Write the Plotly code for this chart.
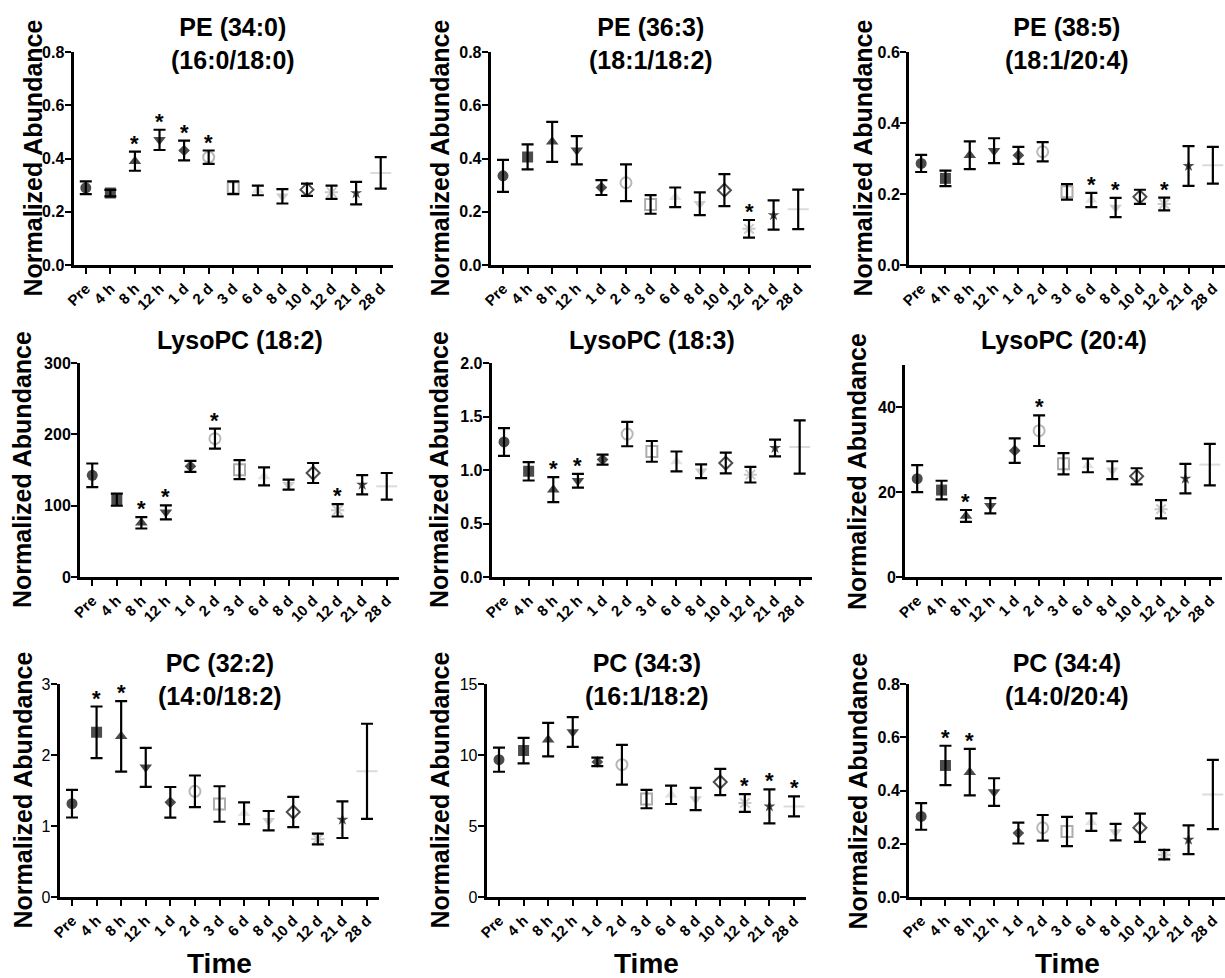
import plotly.graph_objects as go

W, H = 1225, 978
FONT = "Liberation Sans, Arial, sans-serif"

times = ["Pre", "4 h", "8 h", "12 h", "1 d", "2 d", "3 d", "6 d", "8 d", "10 d", "12 d", "21 d", "28 d"]

# ---- data (mean, error, significant time points) ----
pe340_mean = [0.29, 0.27, 0.39, 0.47, 0.43, 0.405, 0.29, 0.28, 0.258, 0.283, 0.273, 0.27, 0.346]
pe340_err = [0.024, 0.012, 0.036, 0.038, 0.037, 0.025, 0.024, 0.018, 0.027, 0.023, 0.025, 0.042, 0.059]
pe340_sig = ["8 h", "12 h", "1 d", "2 d"]

pe363_mean = [0.335, 0.406, 0.4625, 0.431, 0.291, 0.309, 0.2275, 0.254, 0.23, 0.281, 0.136, 0.1875, 0.209]
pe363_err = [0.06, 0.047, 0.075, 0.053, 0.028, 0.069, 0.035, 0.037, 0.043, 0.06, 0.033, 0.055, 0.074]
pe363_sig = ["12 d"]

pe385_mean = [0.286, 0.244, 0.309, 0.322, 0.309, 0.319, 0.206, 0.183, 0.162, 0.192, 0.172, 0.279, 0.281]
pe385_err = [0.024, 0.022, 0.039, 0.035, 0.024, 0.027, 0.022, 0.02, 0.027, 0.02, 0.018, 0.056, 0.052]
pe385_sig = ["6 d", "8 d", "12 d"]

lpc182_mean = [142.5, 108.4, 76, 90.7, 155.1, 193.9, 150.5, 141, 129.4, 145.8, 93.5, 129.4, 127.1]
lpc182_err = [16.6, 8.5, 8, 9.8, 7.7, 14, 13.3, 12.6, 7, 14, 8.7, 13.5, 18.7]
lpc182_sig = ["8 h", "12 h", "2 d", "12 d"]

lpc183_mean = [1.262, 0.988, 0.816, 0.9, 1.097, 1.336, 1.174, 1.08, 0.988, 1.065, 0.956, 1.206, 1.215]
lpc183_err = [0.13, 0.086, 0.117, 0.064, 0.047, 0.114, 0.097, 0.093, 0.064, 0.097, 0.073, 0.078, 0.249]
lpc183_sig = ["8 h", "12 h"]

lpc204_mean = [23.2, 20.5, 14.4, 16.8, 29.8, 34.5, 26.7, 26.3, 25.2, 23.75, 16.0, 23.2, 26.5]
lpc204_err = [3.2, 2.2, 1.4, 1.8, 2.9, 3.6, 2.5, 1.6, 2.1, 1.9, 2.15, 3.5, 4.9]
lpc204_sig = ["8 h", "2 d"]

pc322_mean = [1.315, 2.319, 2.263, 1.826, 1.333, 1.488, 1.31, 1.18, 1.075, 1.197, 0.817, 1.089, 1.77]
pc322_err = [0.195, 0.364, 0.497, 0.275, 0.216, 0.223, 0.25, 0.153, 0.136, 0.213, 0.075, 0.258, 0.67]
pc322_sig = ["4 h", "8 h"]

pc343_mean = [9.67, 10.31, 11.08, 11.62, 9.51, 9.32, 6.9, 7.2, 6.9, 8.1, 6.62, 6.38, 6.38]
pc343_err = [0.85, 0.9, 1.18, 1.05, 0.3, 1.4, 0.65, 0.65, 0.78, 0.92, 0.62, 1.2, 0.7]
pc343_sig = ["12 d", "21 d", "28 d"]

pc344_mean = [0.3025, 0.494, 0.469, 0.394, 0.24, 0.26, 0.246, 0.281, 0.244, 0.26, 0.159, 0.215, 0.385]
pc344_err = [0.05, 0.074, 0.087, 0.052, 0.039, 0.048, 0.055, 0.033, 0.031, 0.053, 0.018, 0.054, 0.13]
pc344_sig = ["4 h", "8 h"]

titles = ["PE (34:0)<br>(16:0/18:0)", "PE (36:3)<br>(18:1/18:2)", "PE (38:5)<br>(18:1/20:4)",
          "LysoPC (18:2)", "LysoPC (18:3)", "LysoPC (20:4)",
          "PC (32:2)<br>(14:0/18:2)", "PC (34:3)<br>(16:1/18:2)", "PC (34:4)<br>(14:0/20:4)"]

panels = [
    (pe340_mean, pe340_err, pe340_sig),
    (pe363_mean, pe363_err, pe363_sig),
    (pe385_mean, pe385_err, pe385_sig),
    (lpc182_mean, lpc182_err, lpc182_sig),
    (lpc183_mean, lpc183_err, lpc183_sig),
    (lpc204_mean, lpc204_err, lpc204_sig),
    (pc322_mean, pc322_err, pc322_sig),
    (pc343_mean, pc343_err, pc343_sig),
    (pc344_mean, pc344_err, pc344_sig),
]

y_ranges = [(0, 0.8), (0, 0.8), (0, 0.6), (0, 300), (0, 2.0), (0, 50), (0, 3), (0, 15), (0, 0.8)]
y_ticks = [[0, 0.2, 0.4, 0.6, 0.8], [0, 0.2, 0.4, 0.6, 0.8], [0, 0.2, 0.4, 0.6],
           [0, 100, 200, 300], [0, 0.5, 1.0, 1.5, 2.0], [0, 20, 40],
           [0, 1, 2, 3], [0, 5, 10, 15], [0, 0.2, 0.4, 0.6, 0.8]]
y_fmt = [".1f", ".1f", ".1f", "d", ".1f", "d", "d", "d", ".1f"]
y_bold = [True, True, True, True, True, True, False, False, True]

# ---- layout geometry (pixels) ----
dom_px = [  # x0, x1, ytop, ybottom
    (73.5, 393, 52, 265), (490.7, 810.5, 52, 265), (909, 1225, 52, 265),
    (80, 399, 363, 577), (491.7, 812, 363, 577), (905, 1222, 365, 577),
    (59.7, 379.3, 684, 897), (486.7, 806.3, 684, 897), (909, 1225, 684, 897),
]
ytitle_x = [32, 439, 862, 22, 439, 857, 22, 439, 857]
title_y = [43, 43, 43, 340, 340, 340, 679, 679, 679]

symbols = ["circle", "square", "triangle-up", "triangle-down", "diamond", "circle-open",
           "square-open", "triangle-up", "triangle-down", "diamond-open", "asterisk-open",
           "star", "line-ew-open"]
colors = ["#000000", "#000000", "#000000", "#000000", "#000000", "#9a9a9a",
          "#8a8a8a", "#d6d6d6", "#b8b8b8", "#000000", "#b5b5b5", "#000000", "#cccccc"]
sizes = [11, 11, 11, 11, 9, 11, 11, 11, 11, 10, 11, 9, 15]
lwidths = [0, 0, 0, 0, 0, 2, 2, 0, 0, 2, 2, 0, 2]


def px_x(p):
    return p / W


def px_y(p):
    return 1 - p / H


fig = go.Figure()
annotations = []
layout = {}

for i, (mean, err, sig) in enumerate(panels):
    k = i + 1
    xa = "x" if k == 1 else f"x{k}"
    ya = "y" if k == 1 else f"y{k}"
    x0, x1, yt, yb = dom_px[i]
    fig.add_trace(go.Scatter(
        x=times, y=mean, mode="markers", xaxis=xa, yaxis=ya, showlegend=False,
        marker=dict(symbol=symbols, color=colors, size=sizes,
                    line=dict(color=colors, width=lwidths)),
    ))
    fig.add_trace(go.Scatter(
        x=times, y=mean, mode="markers", xaxis=xa, yaxis=ya, showlegend=False,
        marker=dict(size=2, opacity=0),
        error_y=dict(type="data", array=err, color="black", thickness=2.2, width=6),
    ))
    tickfont = dict(family=FONT, size=16, color="black", weight="bold" if y_bold[i] else "normal")
    layout["xaxis" if k == 1 else f"xaxis{k}"] = dict(
        domain=[px_x(x0), px_x(x1)], anchor=ya, type="category", range=[-0.5, 12.5],
        showline=True, linewidth=3, linecolor="black", ticks="outside", ticklen=6,
        tickwidth=2, tickcolor="black", tickangle=-45, showgrid=False, zeroline=False,
        automargin=False,
        tickfont=dict(family=FONT, size=15, color="black", weight="bold"),
    )
    layout["yaxis" if k == 1 else f"yaxis{k}"] = dict(
        domain=[px_y(yb), px_y(yt)], anchor=xa, range=list(y_ranges[i]),
        tickvals=y_ticks[i], tickformat=y_fmt[i],
        showline=True, linewidth=3, linecolor="black", ticks="outside", ticklen=6,
        tickwidth=2, tickcolor="black", showgrid=False, zeroline=False,
        automargin=False, tickfont=tickfont, ticklabelstandoff=-3,
    )
    # asterisks
    for t in sig:
        j = times.index(t)
        annotations.append(dict(
            x=t, y=mean[j] + err[j], xref=xa, yref=ya, text="*", showarrow=False,
            yanchor="bottom", yshift=-6,
            font=dict(family=FONT, size=22, color="black", weight="bold"),
        ))
    # panel title
    annotations.append(dict(
        x=px_x((x0 + x1) / 2), y=px_y(title_y[i]), xref="paper", yref="paper",
        text=titles[i], showarrow=False, xanchor="center", yanchor="middle",
        font=dict(family=FONT, size=25, color="black", weight="bold"),
    ))
    # y-axis title
    annotations.append(dict(
        x=px_x(ytitle_x[i]), y=px_y((yt + yb) / 2), xref="paper", yref="paper",
        text="Normalized Abundance", showarrow=False, textangle=-90,
        xanchor="center", yanchor="middle",
        font=dict(family=FONT, size=25, color="black", weight="bold"),
    ))
    if i >= 6:
        annotations.append(dict(
            x=px_x((x0 + x1) / 2), y=px_y(963), xref="paper", yref="paper",
            text="Time", showarrow=False, xanchor="center", yanchor="middle",
            font=dict(family=FONT, size=28, color="black", weight="bold"),
        ))

fig.update_layout(
    template="none",
    width=W, height=H, margin=dict(l=0, r=0, t=0, b=0, autoexpand=False),
    paper_bgcolor="white", plot_bgcolor="white",
    annotations=annotations, **layout,
)

fig.write_html(
    "out.html",
    config={"displayModeBar": False},
    post_script="document.body.style.margin='0px';document.body.style.overflow='hidden';",
)
